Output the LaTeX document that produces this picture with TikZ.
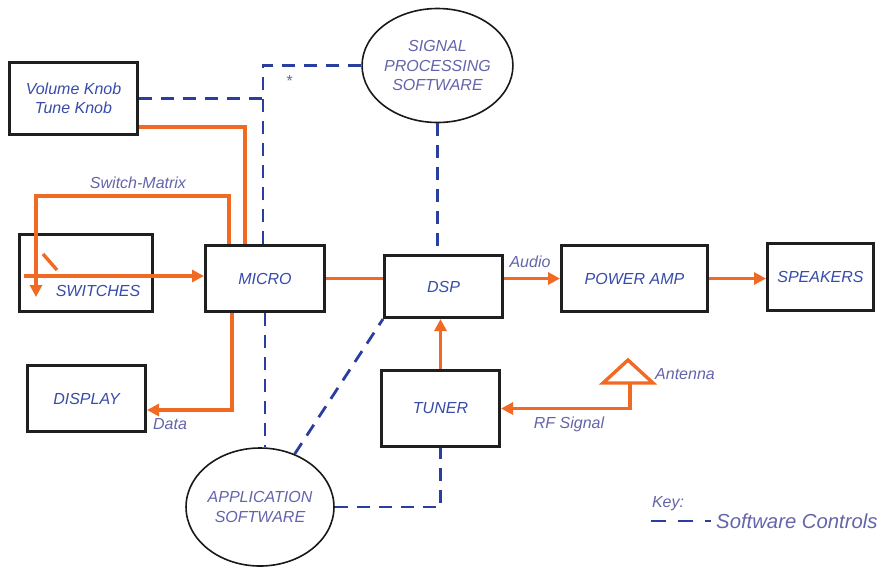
\documentclass[tikz,border=0pt]{standalone}
\usepackage{fontspec}
\setmainfont{Liberation Sans}
\usetikzlibrary{arrows.meta,shapes.geometric}
\definecolor{flowc}{RGB}{240,106,36}
\definecolor{ctrlc}{RGB}{42,62,160}
\definecolor{boxtext}{RGB}{55,75,168}
\definecolor{labeltext}{RGB}{100,100,170}

\begin{document}
\begin{tikzpicture}[x=1pt,y=-1pt,
  block/.style={draw=black!88, line width=3pt, inner sep=0pt,
    font=\fontsize{16}{19}\selectfont\itshape, text=boxtext, align=center},
  bubble/.style={ellipse, draw=black!90, line width=1.6pt, inner sep=0pt,
    font=\fontsize{16}{19.5}\selectfont\itshape, text=labeltext, align=center},
  tag/.style={font=\fontsize{16}{19}\selectfont\itshape, text=labeltext, inner sep=0pt},
  flow/.style={draw=flowc, line width=3.4pt},
  tip/.style={-{Triangle[length=12pt,width=12pt]}},
  ctrl/.style={draw=ctrlc, line width=2.8pt, dash pattern=on 13pt off 9pt}
]
\useasboundingbox (0,0) rectangle (882,566);

% blocks
\node[block, minimum width=128pt, minimum height=72pt] (vol) at (73.5,98.5) {Volume Knob\\Tune Knob};
\node[block, minimum width=133pt, minimum height=77pt] (sw) at (86,273) {};
\node[block, minimum width=119pt, minimum height=66pt] (micro) at (265,278.5) {MICRO};
\node[block, minimum width=118pt, minimum height=62pt] (dsp) at (443.5,286.5) {DSP};
\node[block, minimum width=146pt, minimum height=66pt] (pamp) at (634.5,278.5) {POWER AMP};
\node[block, minimum width=106pt, minimum height=67pt] (spk) at (820.5,277) {SPEAKERS};
\node[block, minimum width=118pt, minimum height=66pt] (disp) at (86.5,398.5) {DISPLAY};
\node[block, minimum width=118pt, minimum height=76pt] (tuner) at (440.5,408.5) {TUNER};
\node[font=\fontsize{16}{19}\selectfont\itshape, text=boxtext, inner sep=0pt] (swtext) at (98,291) {SWITCHES};

% software bubbles
\node[bubble, minimum width=141pt, minimum height=114pt] (sig) at (437.5,65.5) {SIGNAL\\PROCESSING\\SOFTWARE};
\node[bubble, minimum width=136pt, minimum height=118pt] (app) at (260,507) {APPLICATION\\SOFTWARE};

% software control links
\draw[ctrl] (sig.west) -| ([xshift=-2pt]micro.north);
\draw[ctrl] (vol.east) -- ([xshift=-2pt]micro.north |- vol.east);
\draw[ctrl] (sig.south) -- (sig.south |- dsp.north);
\draw[ctrl] (micro.south) -- (micro.south |- app.north);
\draw[ctrl] (app) -- (dsp.south west);
\draw[ctrl] (app.east) -| (tuner.south);
\node[tag] (star) at (289,81) {*};

% signal flow
\draw[flow] ([yshift=-28.5pt]vol.east) -| ([xshift=-20pt]micro.north);
\coordinate (smtip) at (36,297);
\draw[flow, tip] ([xshift=-36pt]micro.north) -- ++(0,-48) -| (smtip);
\node[tag] (smlabel) at (138,183) {Switch-Matrix};
\coordinate (swin) at (24,276);
\draw[flow, tip] (swin) -- (swin -| micro.west);
\draw[flow] (43,254) -- (57,270);
\draw[flow] (micro.east) -- (micro.east -| dsp.west);
\draw[flow, tip] (pamp.west -| dsp.east) -- (pamp.west);
\node[tag] (audio) at (530,262) {Audio};
\draw[flow, tip] (pamp.east) -- (pamp.east -| spk.west);
\draw[flow, tip] (tuner.north) -- (tuner.north |- dsp.south);
\draw[flow, tip] ([xshift=-33pt]micro.south) |- ([yshift=-11.5pt]disp.east);
\node[tag] (data) at (170,424) {Data};

% antenna
\draw[flow, line join=miter] (603,383) -- (628,360) -- (653,383) -- cycle;
\coordinate (ant) at (630,383);
\draw[flow, tip] (ant) |- (tuner.east);
\node[tag, anchor=west] (antlabel) at (655,374) {Antenna};
\node[tag] (rf) at (569,424) {RF Signal};

% key
\node[tag] (keylabel) at (668,504) {Key:};
\coordinate (keyA) at (651,521);
\coordinate (keyB) at (711,521);
\draw[ctrl, dash pattern=on 15pt off 12pt] (keyA) -- (keyB);
\node[tag, anchor=west, font=\fontsize{20.3}{24}\selectfont\itshape] (keytext) at (716,521) {Software Controls};
\end{tikzpicture}
\end{document}
